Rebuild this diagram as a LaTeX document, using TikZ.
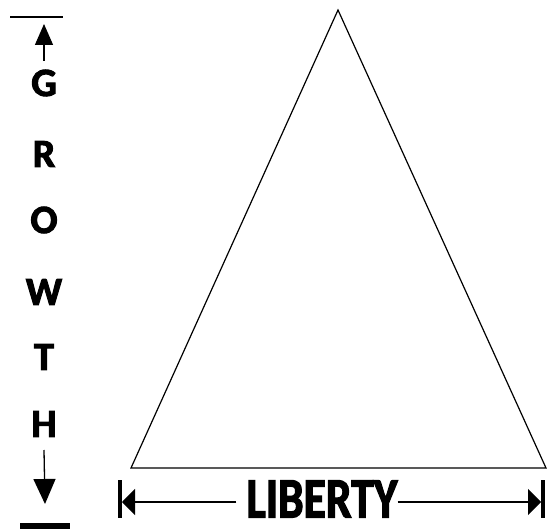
\documentclass[tikz,border=0pt]{standalone}
\usepackage{fontspec}
\setmainfont{Carlito}
\newfontfamily\heavyfont[FakeBold=2.5]{Carlito Bold}
\usetikzlibrary{arrows.meta}
\begin{document}
\begin{tikzpicture}[x=1pt,y=-1pt,
  letter/.style={font=\heavyfont\fontsize{40}{40}\selectfont, inner sep=0pt, anchor=center},
  bigtext/.style={font=\heavyfont\fontsize{57}{57}\selectfont, inner sep=0pt, anchor=center, xscale=0.8, text height=37pt, text depth=0pt},
  shaft/.style={line width=1.3pt}]
\useasboundingbox (0,0) rectangle (549,529);
% triangle
\coordinate (apex) at (338,10);
\coordinate (bl) at (131,468);
\coordinate (br) at (546,468);
\draw[line width=1.2pt, line join=miter] (apex) -- (bl) -- (br) -- cycle;
% GROWTH letters
\node[letter] (G) at (44,83) {G};
\node[letter] (R) at (44,154) {R};
\node[letter] (O) at (44,220) {O};
\node[letter] (W) at (44,292) {W};
\node[letter] (T) at (44,357) {T};
\node[letter] (H) at (44,424) {H};
% top bar and arrow
\coordinate (tbl) at (10,17);
\coordinate (tbr) at (63,17);
\draw[line width=2.5pt] (tbl) -- (tbr);
\coordinate (tup) at (44,24);
\draw[shaft, -{Triangle[length=21pt,width=18pt]}] (G.north |- 0,61) -- (tup);
% bottom arrow and bar
\coordinate (tdown) at (45,504);
\draw[shaft, -{Triangle[length=25pt,width=22pt]}] (H.south |- 0,450) -- (tdown);
\coordinate (bbl) at (20,526);
\coordinate (bbr) at (70,526);
\draw[line width=6pt] (bbl) -- (bbr);
% LIBERTY
\node[bigtext] (L) at (322,499) {LIBERTY};
\coordinate (lb1) at (120,480);
\coordinate (lb2) at (120,518);
\draw[line width=4pt] (lb1) -- (lb2);
\coordinate (rb1) at (543,480);
\coordinate (rb2) at (543,518);
\draw[line width=4pt] (rb1) -- (rb2);
\draw[shaft, -{Triangle[length=13pt,width=26pt]}] (L.west |- 0,502) ++(-10,0) -- (122,502);
\draw[shaft, -{Triangle[length=13pt,width=26pt]}] (L.east |- 0,502) -- (541,502);
\end{tikzpicture}
\end{document}
